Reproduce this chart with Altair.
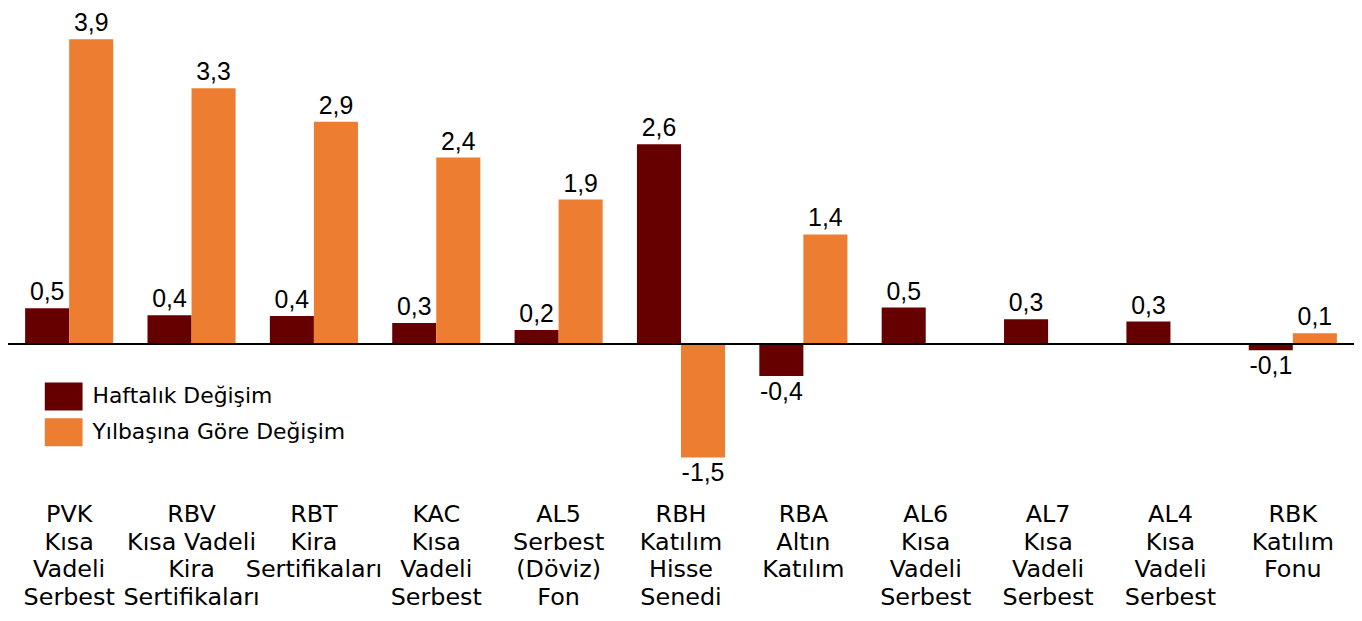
import altair as alt
import pandas as pd

categories = [
    "PVK\nKısa\nVadeli\nSerbest",
    "RBV\nKısa Vadeli\nKira\nSertifikaları",
    "RBT\nKira\nSertifikaları",
    "KAC\nKısa\nVadeli\nSerbest",
    "AL5\nSerbest\n(Döviz)\nFon",
    "RBH\nKatılım\nHisse\nSenedi",
    "RBA\nAltın\nKatılım",
    "AL6\nKısa\nVadeli\nSerbest",
    "AL7\nKısa\nVadeli\nSerbest",
    "AL4\nKısa\nVadeli\nSerbest",
    "RBK\nKatılım\nFonu",
]
series = ["Haftalık Değişim", "Yılbaşına Göre Değişim"]
colors = ["#660000", "#ED7D31"]

weekly = [0.46, 0.37, 0.36, 0.27, 0.18, 2.57, -0.41, 0.47, 0.32, 0.29, -0.08]
ytd = [3.92, 3.29, 2.86, 2.40, 1.86, -1.46, 1.41, None, None, None, 0.14]

rows = []
for i, (c, w, y) in enumerate(zip(categories, weekly, ytd)):
    for k, (s, v) in enumerate(((series[0], w), (series[1], y))):
        if v is None:
            continue
        rows.append({"cat": c, "idx": i, "k": k, "series": s, "value": v,
                     "label": f"{v:.1f}".replace(".", ",")})
df = pd.DataFrame(rows)
cat_df = pd.DataFrame({"cat": categories, "idx": list(range(len(categories)))})

BW = 0.36  # bar width in category units
xscale = alt.Scale(domain=[-0.5, len(categories) - 0.5], nice=False, zero=False)
yscale = alt.Scale(domain=[-3.54, 4.30], nice=False, zero=False)

base = alt.Chart(df).transform_calculate(
    x0=f"datum.idx + (datum.k - 1) * {BW}",
    x1=f"datum.idx + datum.k * {BW}",
    xm=f"datum.idx + (datum.k - 0.5) * {BW}",
)

bars = base.mark_bar().encode(
    x=alt.X("x0:Q", scale=xscale, axis=None),
    x2="x1:Q",
    y=alt.Y("value:Q", scale=yscale, axis=None),
    y2=alt.datum(0),
    color=alt.Color("series:N", sort=series,
                    scale=alt.Scale(domain=series, range=colors),
                    legend=alt.Legend(
                        title=None, orient="none", legendX=37, legendY=370,
                        symbolType="M-1,-0.74L1,-0.74L1,0.74L-1,0.74Z",
                        symbolSize=1444, symbolStrokeWidth=0, symbolOpacity=1,
                        labelFont="DejaVu Sans", labelFontSize=22, labelLimit=500,
                        labelColor="black", rowPadding=2, labelOffset=10)),
)

pos_labels = base.transform_filter("datum.value >= 0").mark_text(
    baseline="alphabetic", dy=-8, font="Liberation Sans", fontSize=25, color="black"
).encode(x=alt.X("xm:Q", scale=xscale, axis=None), y=alt.Y("value:Q", scale=yscale, axis=None),
         text="label:N")

neg_labels = base.transform_filter("datum.value < 0").mark_text(
    baseline="top", dy=4, font="Liberation Sans", fontSize=25, color="black"
).encode(x=alt.X("xm:Q", scale=xscale, axis=None), y=alt.Y("value:Q", scale=yscale, axis=None),
         text="label:N")

zero = alt.Chart(pd.DataFrame({"z": [0]})).mark_rule(
    color="black", strokeWidth=2
).encode(y=alt.Y("z:Q", scale=yscale, axis=None))

cat_text = alt.Chart(cat_df).mark_text(
    lineBreak="\n", baseline="top", fontSize=24, font="DejaVu Sans",
    lineHeight=28, color="black"
).encode(x=alt.X("idx:Q", scale=xscale, axis=None), y=alt.value(496), text="cat:N")

chart = alt.layer(bars, zero, pos_labels, neg_labels, cat_text).properties(
    width=1354, height=613, padding=0, autosize="none"
).configure_view(stroke=None)

chart.save("out.html", embed_options={"renderer": "svg", "actions": False})
